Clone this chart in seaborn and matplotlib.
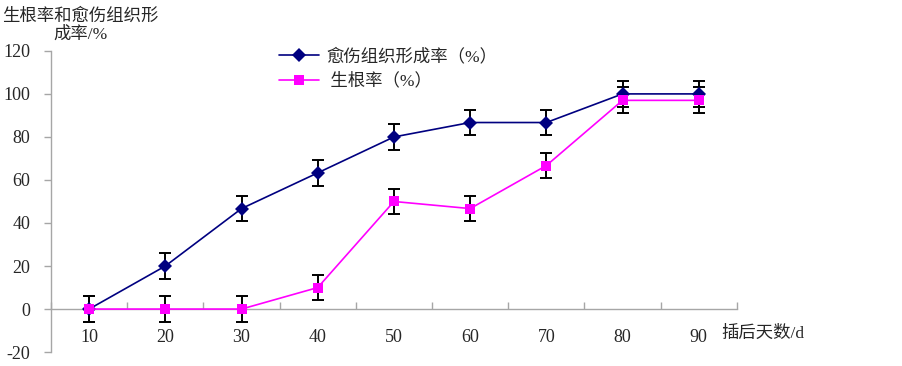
import numpy as np
import pandas as pd
import matplotlib
matplotlib.use("Agg")
import matplotlib.pyplot as plt
from matplotlib.ticker import FixedLocator
import seaborn as sns

days = ["10", "20", "30", "40", "50", "60", "70", "80", "90"]
callus = [0, 20, 46.7, 63.3, 80, 86.7, 86.7, 100, 100]
rooting = [0, 0, 0, 10, 50, 46.7, 66.7, 97, 97]
callus_err = [6, 6, 6, 6, 6, 6, 6, 6, 6]
rooting_err = [6, 6, 6, 6, 6, 6, 6, 6, 6]
yticks = [-20, 0, 20, 40, 60, 80, 100, 120]
name_callus = "愈伤组织形成率（%）"
name_root = " 生根率（%）"

sns.set_style("white")
FAM = ["Liberation Serif", "Noto Sans CJK SC"]
plt.rcParams["font.family"] = FAM

pos = list(range(len(days)))
df = pd.DataFrame({
    "pos": pos * 2,
    "value": callus + rooting,
    "series": [name_callus] * len(days) + [name_root] * len(days),
})

fig = plt.figure(figsize=(9.03, 3.66), dpi=100)
ax = fig.add_axes([0.0565, 0.038, 0.7595, 0.823])

palette = {name_callus: "#000080", name_root: "#FF00FF"}
sns.lineplot(data=df, x="pos", y="value", hue="series", style="series",
             markers={name_callus: "D", name_root: "s"}, dashes=False,
             palette=palette, linewidth=1.2, markersize=7.5,
             markeredgewidth=0, ax=ax, zorder=3)

ax.errorbar(pos, callus, yerr=callus_err, fmt="none", ecolor="black",
            elinewidth=1.4, capsize=4.4, capthick=1.4, zorder=2)
ax.errorbar(pos, rooting, yerr=rooting_err, fmt="none", ecolor="black",
            elinewidth=1.4, capsize=4.4, capthick=1.4, zorder=2)

ax.set_xlim(-0.5, len(days) - 0.5)
ax.set_ylim(-20, 120)
ax.set_yticks(yticks)
ax.set_yticklabels([str(v) for v in yticks])

gray = "#A6A6A6"
for s in ["top", "right"]:
    ax.spines[s].set_visible(False)
ax.spines["left"].set_color(gray)
ax.spines["bottom"].set_color(gray)
ax.spines["bottom"].set_position(("data", 0))
ax.spines["left"].set_linewidth(1.0)
ax.spines["bottom"].set_linewidth(1.0)

ax.tick_params(axis="y", direction="out", length=5, color=gray, width=1.0,
               labelsize=13, pad=10, left=True)
ax.set_xticks(pos)
ax.set_xticklabels(days)
ax.xaxis.set_minor_locator(FixedLocator([p + 0.5 for p in [-1] + pos]))
ax.tick_params(axis="x", which="major", length=0, labelsize=13, pad=14)
ax.tick_params(axis="x", which="minor", direction="in", length=5,
               color=gray, width=1.0, bottom=True)
ax.set_xlabel("")
ax.set_ylabel("")
ax.grid(False)

fig.text(0.089, 0.93, "生根率和愈伤组织形\n成率/%", ha="center", va="center",
         fontsize=12.5, family=FAM, linespacing=1.2)
ax.text(8.3, -11.5, "插后天数/d", ha="left", va="center", fontsize=12.5,
        family=FAM)

handles, labels = ax.get_legend_handles_labels()
leg = ax.legend(handles, labels, loc="upper left",
                bbox_to_anchor=(0.31, 1.06), frameon=False,
                prop={"family": FAM, "size": 12.5}, handlelength=2.3,
                labelspacing=0.45, handletextpad=0.4)

fig.savefig("out.png", dpi=100)
